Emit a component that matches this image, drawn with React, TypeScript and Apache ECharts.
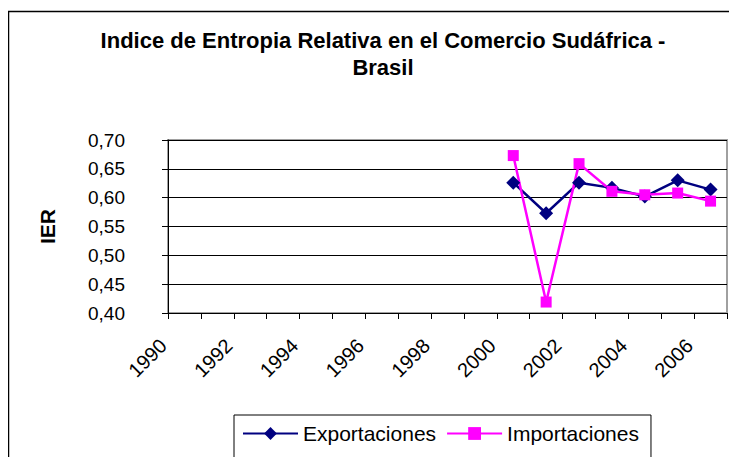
import React, { useEffect, useRef } from "react";
import * as echarts from "echarts";

const years = ["1990","1991","1992","1993","1994","1995","1996","1997","1998","1999","2000","2001","2002","2003","2004","2005","2006"];
const exportaciones = [null,null,null,null,null,null,null,null,null,null,0.626,0.573,0.626,0.617,0.602,0.630,0.614];
const importaciones = [null,null,null,null,null,null,null,null,null,null,0.673,0.419,0.659,0.611,0.605,0.608,0.594];
const titleText = "Indice de Entropia Relativa en el Comercio Sudáfrica -\nBrasil";

export default function App() {
  const ref = useRef<HTMLDivElement>(null);
  useEffect(() => {
    const chart = echarts.init(ref.current!, null, { renderer: "svg" });
    const font = "Liberation Sans, Arial, sans-serif";
    chart.setOption({
      animation: false,
      backgroundColor: "#fff",
      title: {
        text: titleText,
        left: 370,
        top: 14,
        textAlign: "center",
        textStyle: { fontFamily: font, fontSize: 22, fontWeight: "bold", color: "#000", lineHeight: 27 },
      },
      graphic: [
        { type: "rect", shape: { x: 0.5, y: 3.5, width: 900, height: 900 }, style: { fill: "none", stroke: "#000", lineWidth: 1.5 }, silent: true },
      ],
      grid: { left: 160, right: 10, top: 132, bottom: 144, show: true, borderColor: "#a0a0a0", borderWidth: 2, backgroundColor: "#fff" },
      legend: {
        left: 226,
        top: 407,
        padding: [8, 12, 30, 8],
        itemGap: 10,
        itemWidth: 55,
        itemHeight: 16,
        borderColor: "#000",
        borderWidth: 1,
        textStyle: { fontFamily: font, fontSize: 21, color: "#000" },
        data: ["Exportaciones", "Importaciones"],
      },
      xAxis: {
        type: "category",
        data: years,
        boundaryGap: true,
        axisLine: { lineStyle: { color: "#000", width: 1 } },
        axisTick: { show: true, interval: 0, length: 6, lineStyle: { color: "#000" } },
        axisLabel: { interval: 1, rotate: 45, margin: 8, padding: [0, 30, 0, 0], fontFamily: font, fontSize: 20, color: "#000" },
        splitLine: { show: false },
      },
      yAxis: {
        type: "value",
        min: 0.4,
        max: 0.7,
        interval: 0.05,
        name: "IER",
        nameLocation: "middle",
        nameRotate: 90,
        nameGap: 110,
        nameTextStyle: { fontFamily: font, fontSize: 21, fontWeight: "bold", color: "#000" },
        axisLine: { show: true, lineStyle: { color: "#000", width: 1 } },
        axisTick: { show: true, length: 6, lineStyle: { color: "#000" } },
        axisLabel: {
          margin: 43,
          fontFamily: font,
          fontSize: 19,
          color: "#000",
          formatter: (v: number) => v.toFixed(2).replace(".", ","),
        },
        splitLine: { show: true, lineStyle: { color: "#000", width: 1 } },
      },
      series: [
        {
          name: "Exportaciones",
          type: "line",
          data: exportaciones,
          symbol: "diamond",
          symbolSize: 14,
          connectNulls: false,
          lineStyle: { color: "#000080", width: 2.5 },
          itemStyle: { color: "#000080" },
        },
        {
          name: "Importaciones",
          type: "line",
          data: importaciones,
          symbol: "rect",
          symbolSize: 11,
          connectNulls: false,
          lineStyle: { color: "#ff00ff", width: 2.5 },
          itemStyle: { color: "#ff00ff" },
        },
      ],
    });
    return () => chart.dispose();
  }, []);
  return <div ref={ref} style={{ width: 729, height: 449 }} />;
}
